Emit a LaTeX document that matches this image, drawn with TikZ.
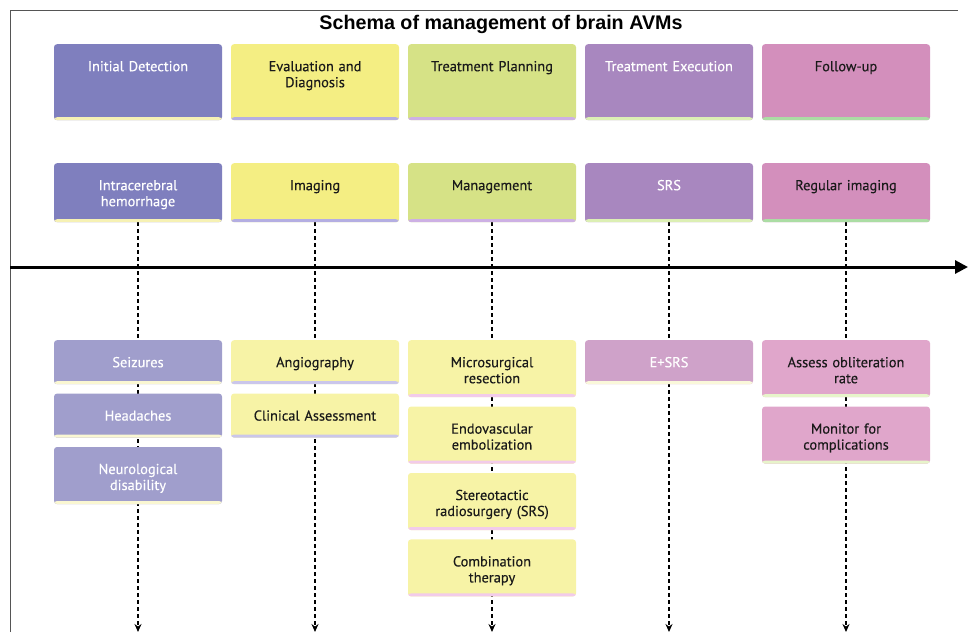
\documentclass[tikz,border=0pt]{standalone}
\usepackage{fontspec}
\usepackage{tikz}
\usetikzlibrary{arrows.meta,positioning,backgrounds}
\newfontfamily\boxfont[FakeBold=0.3]{PT Sans}
\newfontfamily\titlefont{Liberation Sans}
\usepackage{xcolor}
\definecolor{detblue}{HTML}{7F7FBE}
\definecolor{detblueL}{HTML}{A09ECC}
\definecolor{evalyellow}{HTML}{F4EE83}
\definecolor{evalyellowL}{HTML}{F7F3A6}
\definecolor{planlime}{HTML}{D6E286}
\definecolor{execpurple}{HTML}{A887BF}
\definecolor{execpurpleL}{HTML}{CFA2C9}
\definecolor{followpink}{HTML}{D38FBC}
\definecolor{followpinkL}{HTML}{E0A6CB}
\definecolor{lineyellow}{HTML}{F6F1B4}
\definecolor{linelavender}{HTML}{B4AEE2}
\definecolor{linelilac}{HTML}{CDB0E4}
\definecolor{linegreen}{HTML}{DCEFB4}
\definecolor{linemint}{HTML}{ABDDA4}
\definecolor{linepink}{HTML}{F2CBEA}
\definecolor{txtdark}{HTML}{1A1A1A}
\definecolor{framegray}{HTML}{555555}

\begin{document}
\begin{tikzpicture}[
    x=1pt, y=-1pt,
    >=Stealth,
    stage/.style={fill=#1, rounded corners=3pt, minimum width=168pt, text width=156pt,
        align=center, anchor=north, inner ysep=17pt, text height=10pt,
        font=\boxfont\fontsize{14.4}{16}\selectfont, text=txtdark},
    stripe/.style={path picture={\fill[#1] ([yshift=3pt]path picture bounding box.south west)
        rectangle (path picture bounding box.south east);}},
    light/.style={text=white},
    period/.style={text depth=32pt},
    headline/.style={text depth=15pt},
    oneline/.style={text depth=0pt},
    twoline/.style={text depth=13pt},
    flow/.style={-{Stealth[length=8pt,width=7pt]}, dash pattern=on 4pt off 3pt, line width=1.6pt},
    timeline/.style={-{Triangle[length=13pt,width=13pt]}, line width=3pt}
]
\useasboundingbox (0,0) rectangle (968,632);

% ---- Frame and title ----
\draw[framegray, line width=1pt] (10,632) -- (10,10.5) -- (958,10.5);
\node[font=\titlefont\bfseries\fontsize{19.7}{22}\selectfont, anchor=base] (title) at (501,29) {Schema of management of brain AVMs};

% ---- Time periods ----
\node[stage=detblue, light, period, stripe=lineyellow] (det) at (138,44) {Initial Detection};
\node[stage=evalyellow, period, stripe=linelavender] (eval) at (315,44) {Evaluation and\\Diagnosis};
\node[stage=planlime, period, stripe=linelilac] (plan) at (492,44) {Treatment Planning};
\node[stage=execpurple, light, period, stripe=linegreen] (exec) at (669,44) {Treatment Execution};
\node[stage=followpink, period, stripe=linemint] (follow) at (846,44) {Follow-up};

% ---- Section heads ----
\node[stage=detblue, light, headline, stripe=lineyellow] (ich) at (138,163) {Intracerebral\\hemorrhage};
\node[stage=evalyellow, headline, stripe=linelavender] (imaging) at (315,163) {Imaging};
\node[stage=planlime, headline, stripe=linelilac] (mgmt) at (492,163) {Management};
\node[stage=execpurple, light, headline, stripe=linegreen] (srs) at (669,163) {SRS};
\node[stage=followpink, headline, stripe=linemint] (regimg) at (846,163) {Regular imaging};

% ---- Timeline ----
\coordinate (tl-start) at (10,267);
\coordinate (tl-end) at (968,267);
\draw[timeline] (tl-start) -- (tl-end);

% ---- Events ----
\node[stage=detblueL, light, oneline, stripe=lineyellow!60] (seiz) at (138,340) {Seizures};
\node[stage=detblueL, light, oneline, stripe=lineyellow!60, below=9pt of seiz] (head) {Headaches};
\node[stage=detblueL, light, twoline, stripe=lineyellow!60, below=9pt of head] (neuro) {Neurological\\disability};

\node[stage=evalyellowL, oneline, stripe=linelavender!70] (angio) at (315,340) {Angiography};
\node[stage=evalyellowL, oneline, stripe=linelavender!70, below=9pt of angio] (clin) {Clinical Assessment};

\node[stage=evalyellowL, twoline, stripe=linepink] (micro) at (492,340) {Microsurgical\\resection};
\node[stage=evalyellowL, twoline, stripe=linepink, below=9pt of micro] (endo) {Endovascular\\embolization};
\node[stage=evalyellowL, twoline, stripe=linepink, below=9pt of endo] (stereo) {Stereotactic\\radiosurgery (SRS)};
\node[stage=evalyellowL, twoline, stripe=linepink, below=9pt of stereo] (combo) {Combination\\therapy};

\node[stage=execpurpleL, light, oneline, stripe=lineyellow!50] (esrs) at (669,340) {E+SRS};

\node[stage=followpinkL, twoline, stripe=linegreen!70] (assess) at (846,340) {Assess obliteration\\rate};
\node[stage=followpinkL, twoline, stripe=linegreen!70, below=9pt of assess] (monitor) {Monitor for\\complications};

% ---- Dashed guides ----
\coordinate (end-det) at (138,632);
\coordinate (end-eval) at (315,632);
\coordinate (end-plan) at (492,632);
\coordinate (end-exec) at (669,632);
\coordinate (end-follow) at (846,632);
\begin{scope}[on background layer]
    \draw[flow] (ich.south) -- (end-det);
    \draw[flow] (imaging.south) -- (end-eval);
    \draw[flow] (mgmt.south) -- (end-plan);
    \draw[flow] (srs.south) -- (end-exec);
    \draw[flow] (regimg.south) -- (end-follow);
\end{scope}

\end{tikzpicture}
\end{document}
